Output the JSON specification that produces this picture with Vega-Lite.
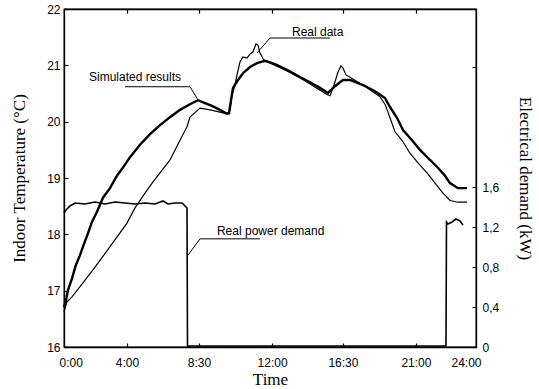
{
  "$schema": "https://vega.github.io/schema/vega-lite/v6.json",
  "width": 412,
  "height": 338,
  "autosize": {"type": "none"},
  "padding": {"left": 64, "top": 9, "right": 63, "bottom": 42},
  "background": "white",
  "config": {
    "view": {"stroke": "black", "strokeWidth": 1.3},
    "axis": {
      "labelFont": "Liberation Sans",
      "labelFontSize": 12,
      "labelColor": "black",
      "titleFont": "Liberation Serif",
      "titleFontSize": 17,
      "titleFontWeight": "normal",
      "titleColor": "black",
      "domainColor": "black",
      "domainWidth": 1.3,
      "tickColor": "black",
      "tickWidth": 1.2,
      "tickSize": -4,
      "grid": false
    }
  },
  "datasets": {
    "sim": [
      {"h": 0, "T": 16.71}, {"h": 0.117, "T": 16.83}, {"h": 0.233, "T": 17.01}, {"h": 0.466, "T": 17.22},
      {"h": 0.699, "T": 17.46}, {"h": 0.932, "T": 17.63}, {"h": 1.165, "T": 17.83}, {"h": 1.398, "T": 18.02},
      {"h": 1.631, "T": 18.22}, {"h": 1.922, "T": 18.40}, {"h": 2.272, "T": 18.65}, {"h": 2.680, "T": 18.82},
      {"h": 3.087, "T": 19.04}, {"h": 3.495, "T": 19.21}, {"h": 3.845, "T": 19.37}, {"h": 4.427, "T": 19.59},
      {"h": 5.010, "T": 19.78}, {"h": 5.592, "T": 19.94}, {"h": 6.175, "T": 20.08}, {"h": 6.757, "T": 20.21},
      {"h": 7.340, "T": 20.31}, {"h": 7.806, "T": 20.38}, {"h": 8.214, "T": 20.33}, {"h": 8.621, "T": 20.28},
      {"h": 9.087, "T": 20.21}, {"h": 9.495, "T": 20.14}, {"h": 9.612, "T": 20.15}, {"h": 9.728, "T": 20.38},
      {"h": 9.845, "T": 20.60}, {"h": 10.136, "T": 20.74}, {"h": 10.427, "T": 20.86}, {"h": 10.835, "T": 20.97},
      {"h": 11.243, "T": 21.04}, {"h": 11.709, "T": 21.08}, {"h": 12.291, "T": 21.02}, {"h": 12.990, "T": 20.92},
      {"h": 13.748, "T": 20.79}, {"h": 14.330, "T": 20.70}, {"h": 14.913, "T": 20.60}, {"h": 15.379, "T": 20.51},
      {"h": 15.786, "T": 20.63}, {"h": 16.252, "T": 20.74}, {"h": 16.660, "T": 20.74}, {"h": 17.417, "T": 20.65},
      {"h": 18.117, "T": 20.54}, {"h": 18.699, "T": 20.42}, {"h": 18.990, "T": 20.26}, {"h": 19.398, "T": 20.07},
      {"h": 19.748, "T": 19.85}, {"h": 20.272, "T": 19.67}, {"h": 20.738, "T": 19.50}, {"h": 21.320, "T": 19.32},
      {"h": 21.728, "T": 19.20}, {"h": 22.194, "T": 19.04}, {"h": 22.485, "T": 18.91}, {"h": 22.951, "T": 18.82},
      {"h": 23.476, "T": 18.82}
    ],
    "real": [
      {"h": 0, "T": 16.62}, {"h": 0.175, "T": 16.80}, {"h": 0.466, "T": 16.89}, {"h": 0.932, "T": 17.07},
      {"h": 1.689, "T": 17.37}, {"h": 2.680, "T": 17.78}, {"h": 3.670, "T": 18.20}, {"h": 4.136, "T": 18.47},
      {"h": 4.718, "T": 18.73}, {"h": 5.184, "T": 18.93}, {"h": 5.592, "T": 19.09}, {"h": 6.175, "T": 19.32},
      {"h": 6.757, "T": 19.67}, {"h": 7.165, "T": 19.91}, {"h": 7.340, "T": 20.08}, {"h": 7.922, "T": 20.24},
      {"h": 8.505, "T": 20.21}, {"h": 9.087, "T": 20.17}, {"h": 9.495, "T": 20.14}, {"h": 9.670, "T": 20.21},
      {"h": 9.786, "T": 20.47}, {"h": 9.961, "T": 20.65}, {"h": 10.078, "T": 20.83}, {"h": 10.252, "T": 21.06},
      {"h": 10.427, "T": 21.15}, {"h": 10.660, "T": 21.13}, {"h": 10.835, "T": 21.20}, {"h": 11.010, "T": 21.24},
      {"h": 11.184, "T": 21.38}, {"h": 11.301, "T": 21.36}, {"h": 11.417, "T": 21.22}, {"h": 11.650, "T": 21.09},
      {"h": 12.0, "T": 21.04}, {"h": 12.990, "T": 20.90}, {"h": 13.748, "T": 20.78}, {"h": 14.330, "T": 20.67},
      {"h": 14.913, "T": 20.56}, {"h": 15.262, "T": 20.49}, {"h": 15.495, "T": 20.46}, {"h": 15.728, "T": 20.65},
      {"h": 15.961, "T": 20.88}, {"h": 16.136, "T": 20.99}, {"h": 16.252, "T": 20.95}, {"h": 16.427, "T": 20.83},
      {"h": 16.660, "T": 20.79}, {"h": 17.126, "T": 20.70}, {"h": 17.534, "T": 20.63}, {"h": 17.941, "T": 20.54},
      {"h": 18.408, "T": 20.44}, {"h": 18.699, "T": 20.31}, {"h": 18.874, "T": 20.17}, {"h": 18.990, "T": 20.07},
      {"h": 19.282, "T": 19.82}, {"h": 19.689, "T": 19.67}, {"h": 20.155, "T": 19.44}, {"h": 20.621, "T": 19.27},
      {"h": 21.146, "T": 19.09}, {"h": 21.612, "T": 18.91}, {"h": 22.078, "T": 18.73}, {"h": 22.485, "T": 18.60},
      {"h": 22.951, "T": 18.57}, {"h": 23.476, "T": 18.57}
    ],
    "power": [
      {"h": 0, "kW": 1.34}, {"h": 0.117, "kW": 1.37}, {"h": 0.350, "kW": 1.41}, {"h": 0.641, "kW": 1.44},
      {"h": 1.223, "kW": 1.43}, {"h": 1.806, "kW": 1.45}, {"h": 2.388, "kW": 1.43}, {"h": 2.971, "kW": 1.45},
      {"h": 3.553, "kW": 1.44}, {"h": 4.136, "kW": 1.43}, {"h": 4.718, "kW": 1.44}, {"h": 5.301, "kW": 1.43},
      {"h": 5.767, "kW": 1.46}, {"h": 6.058, "kW": 1.43}, {"h": 6.466, "kW": 1.44}, {"h": 6.874, "kW": 1.44},
      {"h": 7.048, "kW": 1.41}, {"h": 7.165, "kW": 1.39}, {"h": 7.194, "kW": 0.01}, {"h": 22.252, "kW": 0.01},
      {"h": 22.281, "kW": 1.25}, {"h": 22.369, "kW": 1.23}, {"h": 22.602, "kW": 1.25}, {"h": 22.835, "kW": 1.28},
      {"h": 23.068, "kW": 1.26}, {"h": 23.243, "kW": 1.22}
    ],
    "leaders": [
      {"id": "sim", "ord": 1, "h": 3.553, "T": 20.62}, {"id": "sim", "ord": 2, "h": 7.340, "T": 20.62}, {"id": "sim", "ord": 3, "h": 7.806, "T": 20.385},
      {"id": "real", "ord": 1, "h": 11.243, "T": 21.22}, {"id": "real", "ord": 2, "h": 12.0, "T": 21.485}, {"id": "real", "ord": 3, "h": 15.495, "T": 21.485},
      {"id": "pow", "ord": 1, "h": 7.223, "T": 17.63}, {"id": "pow", "ord": 2, "h": 7.922, "T": 17.92}, {"id": "pow", "ord": 3, "h": 11.417, "T": 17.92}
    ],
    "notes": [
      {"label": "Simulated results", "h": 1.456, "T": 20.79},
      {"label": "Real data", "h": 13.28, "T": 21.59},
      {"label": "Real power demand", "h": 8.91, "T": 18.06}
    ]
  },
  "layer": [
    {
      "encoding": {
        "x": {
          "field": "h", "type": "quantitative",
          "scale": {"domain": [0, 24], "nice": false, "zero": false},
          "axis": {
            "orient": "bottom", "title": "Time",
            "values": [0, 3.67, 7.86, 12.12, 16.25, 20.5, 24],
            "labelExpr": "datum.value < 1 ? '0:00' : datum.value < 5 ? '4:00' : datum.value < 9 ? '8:30' : datum.value < 14 ? '12:00' : datum.value < 18 ? '16:30' : datum.value < 22 ? '21:00' : '24:00'",
            "labelPadding": 14, "labelFlush": true, "labelFlushOffset": 5, "titlePadding": 3
          }
        },
        "y": {
          "field": "T", "type": "quantitative",
          "scale": {"domain": [16, 22], "nice": false, "zero": false},
          "axis": {
            "orient": "left", "title": "Indoor Temperature (°C)",
            "values": [16, 17, 18, 19, 20, 21, 22],
            "labelPadding": 8, "titlePadding": 18
          }
        }
      },
      "layer": [
        {"data": {"name": "sim"}, "mark": {"type": "line", "color": "black", "strokeWidth": 2.4}},
        {"data": {"name": "real"}, "mark": {"type": "line", "color": "black", "strokeWidth": 1.2}},
        {
          "data": {"name": "leaders"},
          "mark": {"type": "line", "color": "black", "strokeWidth": 1},
          "encoding": {"detail": {"field": "id"}, "order": {"field": "ord"}}
        },
        {
          "data": {"name": "notes"},
          "mark": {"type": "text", "align": "left", "baseline": "middle", "font": "Liberation Sans", "fontSize": 12, "color": "black"},
          "encoding": {"text": {"field": "label"}}
        }
      ]
    },
    {
      "data": {"name": "power"},
      "mark": {"type": "line", "color": "black", "strokeWidth": 1.6},
      "encoding": {
        "x": {
          "field": "h", "type": "quantitative",
          "scale": {"domain": [0, 24], "nice": false, "zero": false},
          "axis": {"orient": "top", "title": null, "labels": false, "values": [3.67, 7.86, 12.12, 16.25, 20.5]}
        },
        "y": {
          "field": "kW", "type": "quantitative",
          "scale": {"domain": [0, 3.38], "nice": false, "zero": false},
          "axis": {
            "orient": "right", "title": "Electrical demand (kW)",
            "values": [0, 0.4, 0.8, 1.2, 1.6, 2.8],
            "labelExpr": "datum.value == 0 ? '0' : datum.value > 2 ? '' : replace(format(datum.value, '.1f'), '.', ',')",
            "labelPadding": 10, "titlePadding": 17
          }
        }
      }
    }
  ],
  "resolve": {"scale": {"y": "independent"}, "axis": {"x": "independent"}}
}
